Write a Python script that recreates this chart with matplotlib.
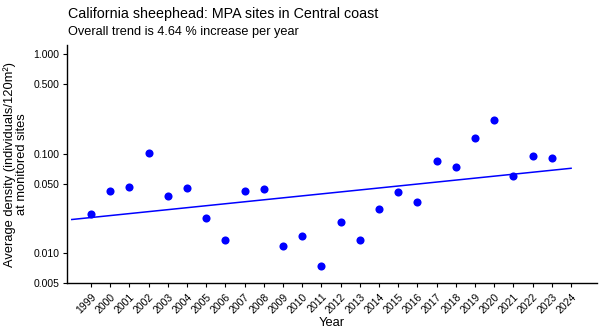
import numpy as np
import matplotlib
matplotlib.use("Agg")
import matplotlib.pyplot as plt
from matplotlib.ticker import FixedLocator, NullLocator

plt.rcParams['font.family'] = ['Liberation Sans', 'DejaVu Sans']

# Données
annees = list(range(1999, 2024))
densite = [0.0251, 0.0419, 0.0468, 0.103, 0.0379, 0.0457, 0.0226, 0.0137,
           0.0419, 0.0443, 0.0118, 0.0151, 0.00745, 0.0208, 0.0137, 0.0278,
           0.0416, 0.0332, 0.0842, 0.0733, 0.144, 0.217, 0.0594, 0.0961, 0.0911]

# Tendance (extrémités de la droite)
tendance_annees = [1998, 2024]
tendance_valeurs = [0.0219, 0.0716]

ticks_x = list(range(1999, 2025))
ticks_y = [0.005, 0.010, 0.050, 0.100, 0.500, 1.000]
labels_y = ["0.005", "0.010", "0.050", "0.100", "0.500", "1.000"]

fig = plt.figure(figsize=(6, 3.33), dpi=100)
ax = fig.add_axes([0.111, 0.149, 0.884, 0.716])

ax.plot(tendance_annees, tendance_valeurs, color="#0000FF", lw=1.1, zorder=2)
ax.scatter(annees, densite, s=34, color="#0000FF", zorder=3, linewidths=0)

ax.set_yscale("log")
ax.set_ylim(0.005, 1.24)
ax.set_xlim(1997.73, 2025.35)
ax.yaxis.set_major_locator(FixedLocator(ticks_y))
ax.yaxis.set_minor_locator(NullLocator())
ax.set_yticklabels(labels_y)
ax.set_xticks(ticks_x)
ax.set_xticklabels([str(a) for a in ticks_x], rotation=45, ha="right",
                   rotation_mode="anchor")

ax.tick_params(axis="both", labelsize=7.5, length=3, width=0.8,
               colors="black", pad=2)
ax.tick_params(axis="x", pad=3)
for cote in ["top", "right"]:
    ax.spines[cote].set_visible(False)
for cote in ["left", "bottom"]:
    ax.spines[cote].set_linewidth(1.0)

ax.set_xlabel("Year", fontsize=9.3, labelpad=1)
ax.set_ylabel("Average density (individuals/120m²)\nat monitored sites",
              fontsize=9.3, linespacing=1.0, labelpad=4)

fig.text(0.113, 0.946, "California sheephead: MPA sites in Central coast",
         fontsize=10.3, va="baseline")
fig.text(0.113, 0.895, "Overall trend is 4.64 % increase per year",
         fontsize=9.2, va="baseline")

fig.savefig("out.png", dpi=100)
